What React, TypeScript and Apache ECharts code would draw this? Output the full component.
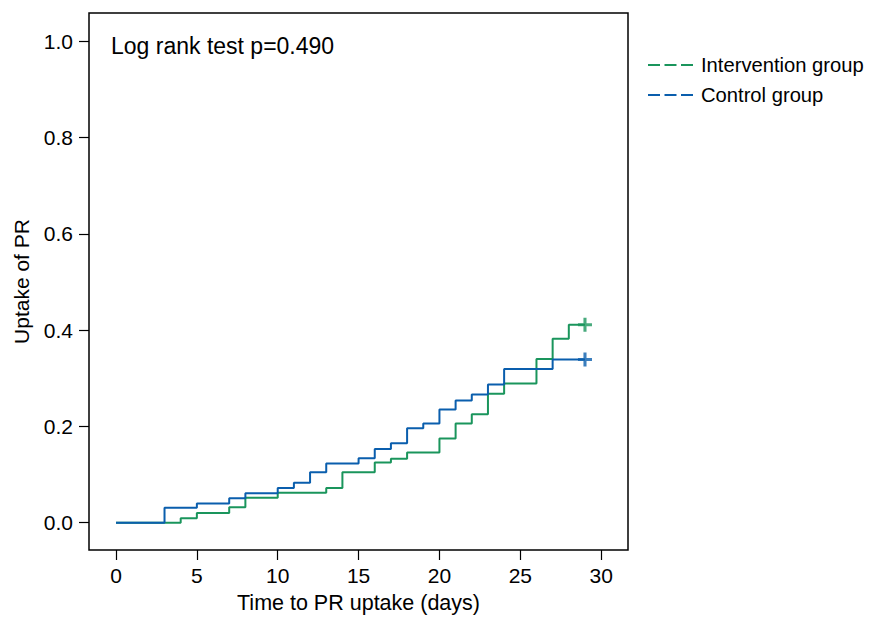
import React, { useEffect, useRef } from "react";
import * as echarts from "echarts";

// Kaplan–Meier style cumulative uptake (step functions)
const interventionDays = [0, 4, 5, 7, 8, 10, 13, 14, 16, 17, 18, 20, 21, 22, 23, 24, 26, 27, 28, 29];
const interventionUptake = [0, 0.0095, 0.02, 0.032, 0.052, 0.062, 0.072, 0.105, 0.125, 0.133, 0.146, 0.175, 0.206, 0.225, 0.268, 0.289, 0.34, 0.382, 0.411, 0.411];

const controlDays = [0, 3, 5, 7, 8, 10, 11, 12, 13, 15, 16, 17, 18, 19, 20, 21, 22, 23, 24, 27, 29];
const controlUptake = [0, 0.031, 0.04, 0.051, 0.061, 0.072, 0.083, 0.105, 0.123, 0.134, 0.153, 0.165, 0.196, 0.206, 0.235, 0.254, 0.266, 0.287, 0.319, 0.339, 0.339];

const censorDay = 29;
const xTicks = [0, 5, 10, 15, 20, 25, 30];
const yTicks = [0, 0.2, 0.4, 0.6, 0.8, 1.0];

const seriesNames = ["Intervention group", "Control group"];
const annotation = "Log rank test p=0.490";
const xAxisTitle = "Time to PR uptake (days)";
const yAxisTitle = "Uptake of PR";

const GREEN = "#1a955c";
const BLUE = "#0a5ead";
const FONT = "Liberation Sans, Arial, Helvetica, sans-serif";
const PLUS = "path://M3.9,0H6.1V3.9H10V6.1H6.1V10H3.9V6.1H0V3.9H3.9Z";
const DASH_ICON = "path://M0,0H12V2H0Z M16.5,0H28.5V2H16.5Z M33,0H45V2H33Z";

export default function App() {
  const ref = useRef<HTMLDivElement>(null);
  useEffect(() => {
    if (!ref.current) return;
    const chart = echarts.init(ref.current, null, { renderer: "svg" });
    const interv = interventionDays.map((d, i) => [d, interventionUptake[i]]);
    const ctrl = controlDays.map((d, i) => [d, controlUptake[i]]);
    chart.setOption({
      animation: false,
      backgroundColor: "#ffffff",
      textStyle: { fontFamily: FONT },
      grid: {
        left: 89,
        right: 241,
        top: 13,
        bottom: 67,
        show: true,
        borderColor: "#000",
        borderWidth: 1.5,
        containLabel: false,
      },
      title: {
        text: annotation,
        left: 106,
        top: 29,
        textStyle: { fontFamily: FONT, fontSize: 23, fontWeight: "normal", color: "#000" },
      },
      legend: {
        orient: "vertical",
        left: 643,
        top: 50,
        itemWidth: 45,
        itemHeight: 2,
        itemGap: 10,
        icon: DASH_ICON,
        data: seriesNames,
        textStyle: {
          fontFamily: FONT,
          fontSize: 20.2,
          color: "#000",
          padding: [0, 0, 0, 3],
          height: 20,
          lineHeight: 20,
        },
      },
      xAxis: {
        type: "value",
        min: -1.67,
        max: 31.66,
        name: xAxisTitle,
        nameLocation: "middle",
        nameGap: 42,
        nameTextStyle: { fontFamily: FONT, fontSize: 21.5, color: "#000" },
        axisLine: { show: false, onZero: false },
        splitLine: { show: false },
        axisTick: { show: true, inside: false, length: 10, customValues: xTicks, lineStyle: { color: "#000", width: 1.2 } },
        axisLabel: {
          customValues: xTicks,
          margin: 15,
          fontFamily: FONT,
          fontSize: 21,
          color: "#000",
          formatter: (v: number) => String(v),
        },
      },
      yAxis: {
        type: "value",
        min: -0.0567,
        max: 1.0586,
        name: yAxisTitle,
        nameLocation: "middle",
        nameRotate: 90,
        nameGap: 57,
        nameTextStyle: { fontFamily: FONT, fontSize: 21, color: "#000" },
        axisLine: { show: false, onZero: false },
        splitLine: { show: false },
        axisTick: { show: true, inside: false, length: 10, customValues: yTicks, lineStyle: { color: "#000", width: 1.2 } },
        axisLabel: {
          customValues: yTicks,
          margin: 16,
          fontFamily: FONT,
          fontSize: 21,
          color: "#000",
          formatter: (v: number) => v.toFixed(1),
        },
      },
      series: [
        {
          name: seriesNames[0],
          type: "line",
          step: "end",
          data: interv,
          symbol: "none",
          color: GREEN,
          lineStyle: { color: GREEN, width: 2 },
          z: 2,
        },
        {
          name: seriesNames[1],
          type: "line",
          step: "end",
          data: ctrl,
          symbol: "none",
          color: BLUE,
          lineStyle: { color: BLUE, width: 2 },
          z: 3,
        },
        {
          name: "censor-intervention",
          type: "scatter",
          data: [[censorDay, interventionUptake[interventionUptake.length - 1]]],
          symbol: PLUS,
          symbolSize: 14,
          itemStyle: { color: GREEN },
          z: 4,
        },
        {
          name: "censor-control",
          type: "scatter",
          data: [[censorDay, controlUptake[controlUptake.length - 1]]],
          symbol: PLUS,
          symbolSize: 14,
          itemStyle: { color: BLUE },
          z: 4,
        },
      ],
    });
    return () => chart.dispose();
  }, []);
  return (
    <div
      ref={ref}
      style={{ position: "absolute", left: 0, top: 0, width: 869, height: 619 }}
    />
  );
}
